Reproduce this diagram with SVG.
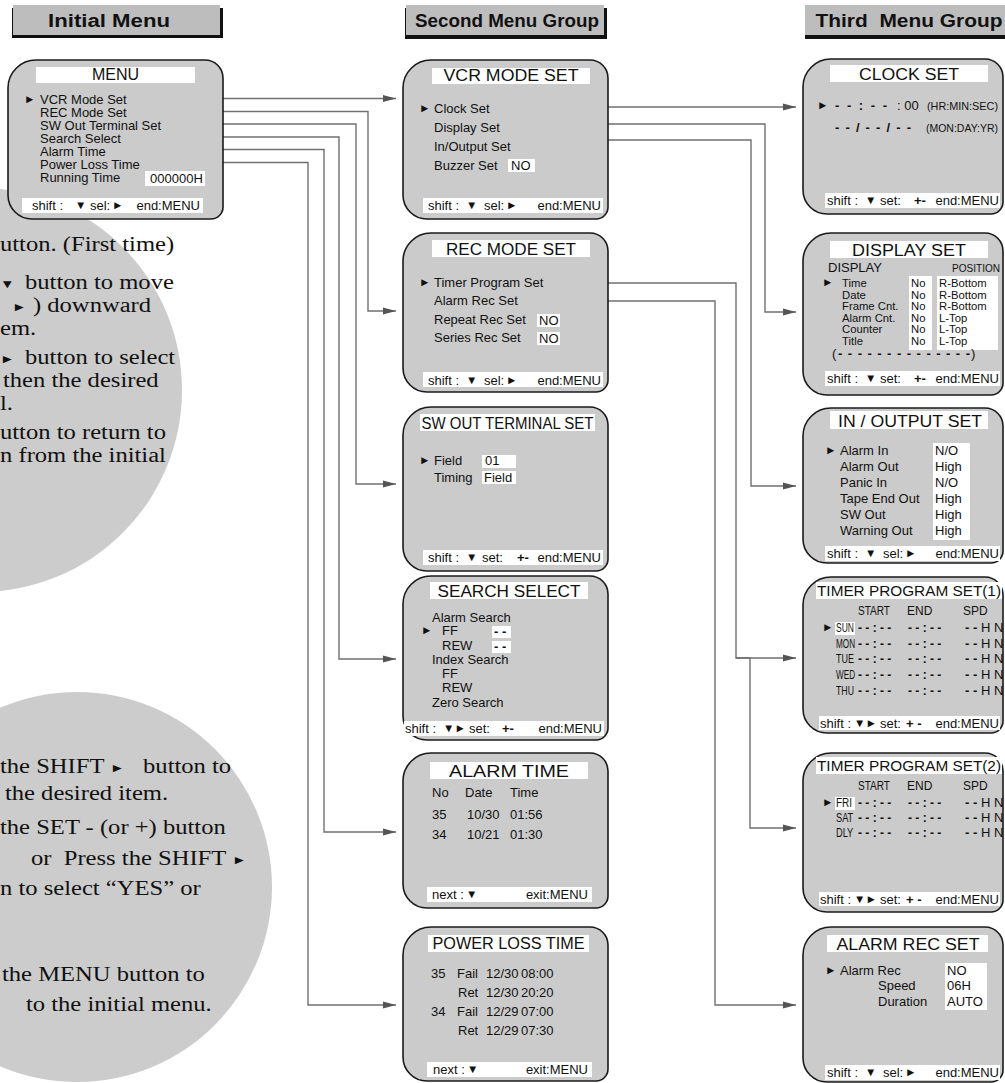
<svg xmlns="http://www.w3.org/2000/svg" width="1005" height="1083" viewBox="0 0 1005 1083">
<style>
.box{fill:#cbcbcb;stroke:#1a1a1a;stroke-width:1.6}
.wb{fill:#fff}
.hdbg{fill:#bdbdbd}
.hdsh{fill:#111}
text{font-family:"Liberation Sans",Arial,Helvetica,sans-serif;fill:#111}
.t{font-size:13px}
.ti{font-size:16px}
.ti2{font-size:15px}
.sm{font-size:12px}
.dr{font-size:11.3px}
.xs{font-size:11px}
.g{font-size:11.5px}
.b{font-weight:bold}
.hd{font-size:18px;font-weight:bold}
.sr{font-family:"Liberation Serif","Times New Roman",serif;font-size:20px}
.sg{font-family:"Liberation Sans",Arial,sans-serif;font-size:12px}
.cn{fill:none;stroke:#707070;stroke-width:1.4}
.circ{fill:#cccccc}
</style>
<defs>
<marker id="ah" markerUnits="userSpaceOnUse" markerWidth="14" markerHeight="8" refX="13" refY="4" orient="auto"><path d="M0,0.5 L13,4 L0,7.5 Z" fill="#555"/></marker>
</defs>

<g id="help-circles">
<circle class="circ" cx="-20" cy="390" r="202"/>
<circle class="circ" cx="77" cy="887" r="195"/>
<g transform="scale(1.23,1)">
<text class="sr" x="0" y="251">utton. (First time)</text>
<text class="sg" x="0" y="288">▼</text><text class="sr" x="20.3" y="289">button to move</text>
<text class="sg" x="9.8" y="311">►</text><text class="sr" x="26.8" y="312">) downward</text>
<text class="sr" x="0" y="335">em.</text>
<text class="sg" x="0" y="363">►</text><text class="sr" x="20.3" y="364">button to select</text>
<text class="sr" x="2.4" y="387">then the desired</text>
<text class="sr" x="0" y="410">l.</text>
<text class="sr" x="0" y="439">utton to return to</text>
<text class="sr" x="0" y="462">n from the initial</text>
<text class="sr" x="0" y="773">the SHIFT</text><text class="sg" x="89.4" y="772">►</text><text class="sr" x="116.3" y="773">button to</text>
<text class="sr" x="4" y="800">the desired item.</text>
<text class="sr" x="0" y="834">the SET - (or +) button</text>
<text class="sr" x="25.2" y="865" xml:space="preserve">or  Press the SHIFT</text><text class="sg" x="188.6" y="864">►</text>
<text class="sr" x="0" y="895">n to select “YES” or</text>
<text class="sr" x="1.6" y="981">the MENU button to</text>
<text class="sr" x="21.1" y="1011">to the initial menu.</text>
</g>
</g>

<g id="header-initial">
<rect class="hdsh" x="12" y="8" width="211" height="30"/>
<rect class="hdbg" x="13" y="5" width="207" height="30"/>
<text class="hd" x="109" y="27" text-anchor="middle" textLength="122" lengthAdjust="spacingAndGlyphs">Initial Menu</text>
</g>
<g id="header-second">
<rect class="hdsh" x="405" y="8" width="202" height="31"/>
<rect class="hdbg" x="406" y="5" width="198" height="30"/>
<text class="hd" x="507" y="27" text-anchor="middle" textLength="184" lengthAdjust="spacingAndGlyphs">Second Menu Group</text>
</g>
<g id="header-third">
<rect class="hdsh" x="805" y="8" width="200" height="31"/>
<rect class="hdbg" x="805" y="5" width="200" height="30"/>
<text class="hd" x="909" y="27" text-anchor="middle" textLength="187" lengthAdjust="spacingAndGlyphs" xml:space="preserve">Third  Menu Group</text>
</g>

<g id="connectors">
<path class="cn" marker-end="url(#ah)" d="M223,98.5 H396"/>
<path class="cn" marker-end="url(#ah)" d="M223,111.5 H368 V311 H396"/>
<path class="cn" marker-end="url(#ah)" d="M223,124 H356 V484 H396"/>
<path class="cn" marker-end="url(#ah)" d="M223,137 H339 V659 H396"/>
<path class="cn" marker-end="url(#ah)" d="M223,149.5 H324 V832 H396"/>
<path class="cn" marker-end="url(#ah)" d="M223,162.5 H308 V1005 H396"/>
<path class="cn" marker-end="url(#ah)" d="M608,107 H796"/>
<path class="cn" marker-end="url(#ah)" d="M608,124 H765 V312 H796"/>
<path class="cn" marker-end="url(#ah)" d="M608,140 H751 V486 H796"/>
<path class="cn" marker-end="url(#ah)" d="M608,283 H736 V658 H796"/>
<path class="cn" marker-end="url(#ah)" d="M736,658 H750 V828 H796"/>
<path class="cn" marker-end="url(#ah)" d="M608,301 H715 V1005 H796"/>
</g>

<g id="menu">
<path class="box" d="M8,88 A28,28 0 0 1 36,60 H205 A18,18 0 0 1 223,78 V207 A12,12 0 0 1 211,219 H32 A24,24 0 0 1 8,195 Z"/>
<rect class="wb" x="36" y="67" width="159" height="16"/>
<text class="ti" x="115.5" y="80" text-anchor="middle">MENU</text>
<text class="g" x="24" y="103">►</text>
<text class="t" x="40" y="104">VCR Mode Set</text>
<text class="t" x="40" y="117">REC Mode Set</text>
<text class="t" x="40" y="130">SW Out Terminal Set</text>
<text class="t" x="40" y="143">Search Select</text>
<text class="t" x="40" y="156">Alarm Time</text>
<text class="t" x="40" y="169">Power Loss Time</text>
<text class="t" x="40" y="182">Running Time</text>
<rect class="wb" x="145" y="171" width="60" height="15"/>
<text class="t" x="150" y="183">000000H</text>
<rect class="wb" x="22" y="198" width="181" height="15"/>
<text class="t" x="32" y="210">shift :</text><text class="g" x="75" y="209">▼</text>
<text class="t" x="90" y="210">sel:</text><text class="g" x="112" y="209">►</text>
<text class="t" x="200" y="210" text-anchor="end">end:MENU</text>
</g>

<g id="vcr-mode-set">
<path class="box" d="M403,88 A28,28 0 0 1 431,60 H590 A18,18 0 0 1 608,78 V207 A12,12 0 0 1 596,219 H427 A24,24 0 0 1 403,195 Z"/>
<rect class="wb" x="432" y="68" width="158" height="16"/>
<text class="ti" x="511" y="81" text-anchor="middle" textLength="135" lengthAdjust="spacingAndGlyphs">VCR MODE SET</text>
<text class="g" x="419" y="112">►</text>
<text class="t" x="434" y="113">Clock Set</text>
<text class="t" x="434" y="132">Display Set</text>
<text class="t" x="434" y="151">In/Output Set</text>
<text class="t" x="434" y="170">Buzzer Set</text>
<rect class="wb" x="508" y="159" width="27" height="13"/>
<text class="t" x="511" y="170">NO</text>
<rect class="wb" x="423" y="198" width="180" height="15"/>
<text class="t" x="428" y="210">shift :</text><text class="g" x="466" y="209">▼</text>
<text class="t" x="484" y="210">sel:</text><text class="g" x="506" y="209">►</text>
<text class="t" x="601" y="210" text-anchor="end">end:MENU</text>
</g>

<g id="rec-mode-set">
<path class="box" d="M403,261 A28,28 0 0 1 431,233 H590 A18,18 0 0 1 608,251 V380 A12,12 0 0 1 596,392 H427 A24,24 0 0 1 403,368 Z"/>
<rect class="wb" x="432" y="240" width="158" height="17"/>
<text class="ti" x="511" y="255" text-anchor="middle" textLength="130" lengthAdjust="spacingAndGlyphs">REC MODE SET</text>
<text class="g" x="419" y="286">►</text>
<text class="t" x="434" y="287">Timer Program Set</text>
<text class="t" x="434" y="305">Alarm Rec Set</text>
<text class="t" x="434" y="324">Repeat Rec Set</text>
<text class="t" x="434" y="342">Series Rec Set</text>
<rect class="wb" x="537" y="314" width="23" height="13"/>
<text class="t" x="539" y="325">NO</text>
<rect class="wb" x="537" y="332" width="23" height="13"/>
<text class="t" x="539" y="343">NO</text>
<rect class="wb" x="423" y="372" width="180" height="15"/>
<text class="t" x="428" y="385">shift :</text><text class="g" x="466" y="384">▼</text>
<text class="t" x="484" y="385">sel:</text><text class="g" x="506" y="384">►</text>
<text class="t" x="601" y="385" text-anchor="end">end:MENU</text>
</g>

<g id="sw-out-terminal-set">
<path class="box" d="M403,435 A28,28 0 0 1 431,407 H590 A18,18 0 0 1 608,425 V559 A12,12 0 0 1 596,571 H427 A24,24 0 0 1 403,547 Z"/>
<rect class="wb" x="420" y="414" width="175" height="17"/>
<text class="ti" x="507.5" y="429" text-anchor="middle" textLength="172" lengthAdjust="spacingAndGlyphs">SW OUT TERMINAL SET</text>
<text class="g" x="419" y="464">►</text>
<text class="t" x="434" y="465">Field</text>
<rect class="wb" x="482" y="455" width="34" height="13"/>
<text class="t" x="485" y="465">01</text>
<text class="t" x="434" y="482">Timing</text>
<rect class="wb" x="482" y="471" width="34" height="13"/>
<text class="t" x="484" y="482">Field</text>
<rect class="wb" x="423" y="550" width="180" height="15"/>
<text class="t" x="428" y="562">shift :</text><text class="g" x="466" y="561">▼</text>
<text class="t" x="482" y="562">set:</text><text class="t b" x="517" y="562">+-</text>
<text class="t" x="601" y="562" text-anchor="end">end:MENU</text>
</g>

<g id="search-select">
<path class="box" d="M403,604 A28,28 0 0 1 431,576 H590 A18,18 0 0 1 608,594 V728 A12,12 0 0 1 596,740 H427 A24,24 0 0 1 403,716 Z"/>
<rect class="wb" x="430" y="582" width="158" height="17"/>
<text class="ti" x="509" y="597" text-anchor="middle" textLength="143" lengthAdjust="spacingAndGlyphs">SEARCH SELECT</text>
<text class="t" x="432" y="622">Alarm Search</text>
<text class="g" x="421" y="634">►</text>
<text class="t" x="442" y="635">FF</text>
<rect class="wb" x="492" y="626" width="19" height="12"/>
<text class="t b" x="494" y="636">- -</text>
<text class="t" x="442" y="650">REW</text>
<rect class="wb" x="492" y="641" width="19" height="12"/>
<text class="t b" x="494" y="651">- -</text>
<text class="t" x="432" y="664">Index Search</text>
<text class="t" x="442" y="678">FF</text>
<text class="t" x="442" y="692">REW</text>
<text class="t" x="432" y="707">Zero Search</text>
<rect class="wb" x="404" y="721" width="200" height="15"/>
<text class="t" x="405" y="733">shift :</text><text class="g" x="443" y="732">▼►</text>
<text class="t" x="469" y="733">set:</text><text class="t b" x="502" y="733">+-</text>
<text class="t" x="602" y="733" text-anchor="end">end:MENU</text>
</g>

<g id="alarm-time">
<path class="box" d="M403,781 A28,28 0 0 1 431,753 H590 A18,18 0 0 1 608,771 V896 A12,12 0 0 1 596,908 H427 A24,24 0 0 1 403,884 Z"/>
<rect class="wb" x="430" y="762" width="158" height="17"/>
<text class="ti" x="509" y="777" text-anchor="middle" textLength="120" lengthAdjust="spacingAndGlyphs">ALARM TIME</text>
<text class="t" x="432" y="797">No</text><text class="t" x="465" y="797">Date</text><text class="t" x="510" y="797">Time</text>
<text class="t" x="432" y="819">35</text><text class="t" x="467" y="819">10/30</text><text class="t" x="510" y="819">01:56</text>
<text class="t" x="432" y="839">34</text><text class="t" x="467" y="839">10/21</text><text class="t" x="510" y="839">01:30</text>
<rect class="wb" x="427" y="887" width="165" height="15"/>
<text class="t" x="432" y="899">next :</text><text class="g" x="466" y="898">▼</text>
<text class="t" x="588" y="899" text-anchor="end">exit:MENU</text>
</g>

<g id="power-loss-time">
<path class="box" d="M403,955 A28,28 0 0 1 431,927 H590 A18,18 0 0 1 608,945 V1069 A12,12 0 0 1 596,1081 H427 A24,24 0 0 1 403,1057 Z"/>
<rect class="wb" x="428" y="935" width="161" height="17"/>
<text class="ti" x="508.5" y="949" text-anchor="middle" textLength="152" lengthAdjust="spacingAndGlyphs">POWER LOSS TIME</text>
<text class="t" x="431" y="978">35</text><text class="t" x="457" y="978">Fail</text><text class="t" x="486" y="978">12/30</text><text class="t" x="521" y="978">08:00</text>
<text class="t" x="458" y="997">Ret</text><text class="t" x="486" y="997">12/30</text><text class="t" x="521" y="997">20:20</text>
<text class="t" x="431" y="1016">34</text><text class="t" x="457" y="1016">Fail</text><text class="t" x="486" y="1016">12/29</text><text class="t" x="521" y="1016">07:00</text>
<text class="t" x="458" y="1035">Ret</text><text class="t" x="486" y="1035">12/29</text><text class="t" x="521" y="1035">07:30</text>
<rect class="wb" x="427" y="1062" width="165" height="15"/>
<text class="t" x="433" y="1074">next :</text><text class="g" x="467" y="1073">▼</text>
<text class="t" x="588" y="1074" text-anchor="end">exit:MENU</text>
</g>

<g id="clock-set">
<path class="box" d="M803,87 A28,28 0 0 1 831,59 H985 A18,18 0 0 1 1003,77 V202 A12,12 0 0 1 991,214 H827 A24,24 0 0 1 803,190 Z"/>
<rect class="wb" x="830" y="65" width="158" height="17"/>
<text class="ti" x="909" y="80" text-anchor="middle" textLength="100" lengthAdjust="spacingAndGlyphs">CLOCK SET</text>
<text class="g" x="817" y="109">►</text>
<text class="t b" x="835" y="110" textLength="52" lengthAdjust="spacing">- - : - -</text><text class="t" x="897" y="110">: 00</text>
<text class="xs" x="927" y="110" textLength="71" lengthAdjust="spacingAndGlyphs">(HR:MIN:SEC)</text>
<text class="t b" x="835" y="132" textLength="76" lengthAdjust="spacing">- - / - - / - -</text>
<text class="xs" x="926" y="132" textLength="72" lengthAdjust="spacingAndGlyphs">(MON:DAY:YR)</text>
<rect class="wb" x="825" y="193" width="175" height="15"/>
<text class="t" x="827" y="205">shift :</text><text class="g" x="865" y="204">▼</text>
<text class="t" x="880" y="205">set:</text><text class="t b" x="914" y="205">+-</text>
<text class="t" x="999" y="205" text-anchor="end">end:MENU</text>
</g>

<g id="display-set">
<path class="box" d="M803,261 A28,28 0 0 1 831,233 H985 A18,18 0 0 1 1003,251 V383 A12,12 0 0 1 991,395 H827 A24,24 0 0 1 803,371 Z"/>
<rect class="wb" x="830" y="241" width="158" height="17"/>
<text class="ti" x="909" y="256" text-anchor="middle" textLength="114" lengthAdjust="spacingAndGlyphs">DISPLAY SET</text>
<text class="t" x="828" y="272">DISPLAY</text>
<text class="xs" x="952" y="272" textLength="48" lengthAdjust="spacingAndGlyphs">POSITION</text>
<rect class="wb" x="909" y="276" width="23" height="74"/>
<rect class="wb" x="937" y="276" width="61" height="74"/>
<text class="g" x="822" y="286">►</text>
<text class="dr" x="842" y="287">Time</text><text class="dr" x="911" y="287">No</text><text class="dr" x="939" y="287">R-Bottom</text>
<text class="dr" x="842" y="298.5">Date</text><text class="dr" x="911" y="298.5">No</text><text class="dr" x="939" y="298.5">R-Bottom</text>
<text class="dr" x="842" y="310">Frame Cnt.</text><text class="dr" x="911" y="310">No</text><text class="dr" x="939" y="310">R-Bottom</text>
<text class="dr" x="842" y="321.5">Alarm Cnt.</text><text class="dr" x="911" y="321.5">No</text><text class="dr" x="939" y="321.5">L-Top</text>
<text class="dr" x="842" y="333">Counter</text><text class="dr" x="911" y="333">No</text><text class="dr" x="939" y="333">L-Top</text>
<text class="dr" x="842" y="344.5">Title</text><text class="dr" x="911" y="344.5">No</text><text class="dr" x="939" y="344.5">L-Top</text>
<text class="t" x="832" y="358">(</text><text class="t b" x="838" y="358" textLength="132" lengthAdjust="spacing">- - - - - - - - - - - - - -</text><text class="t" x="971" y="358">)</text>
<rect class="wb" x="825" y="371" width="175" height="15"/>
<text class="t" x="827" y="383">shift :</text><text class="g" x="865" y="382">▼</text>
<text class="t" x="880" y="383">set:</text><text class="t b" x="914" y="383">+-</text>
<text class="t" x="999" y="383" text-anchor="end">end:MENU</text>
</g>

<g id="in-output-set">
<path class="box" d="M803,436 A28,28 0 0 1 831,408 H985 A18,18 0 0 1 1003,426 V551 A12,12 0 0 1 991,563 H827 A24,24 0 0 1 803,539 Z"/>
<rect class="wb" x="830" y="411" width="158" height="18"/>
<text class="ti" x="910" y="427" text-anchor="middle" textLength="144" lengthAdjust="spacingAndGlyphs">IN / OUTPUT SET</text>
<rect class="wb" x="933" y="443" width="37" height="97"/>
<text class="g" x="825" y="454">►</text>
<text class="t" x="840" y="455">Alarm In</text><text class="t" x="935" y="455">N/O</text>
<text class="t" x="840" y="471">Alarm Out</text><text class="t" x="935" y="471">High</text>
<text class="t" x="840" y="487">Panic In</text><text class="t" x="935" y="487">N/O</text>
<text class="t" x="840" y="503">Tape End Out</text><text class="t" x="935" y="503">High</text>
<text class="t" x="840" y="519">SW Out</text><text class="t" x="935" y="519">High</text>
<text class="t" x="840" y="535">Warning Out</text><text class="t" x="935" y="535">High</text>
<rect class="wb" x="825" y="546" width="175" height="15"/>
<text class="t" x="827" y="558">shift :</text><text class="g" x="865" y="557">▼</text>
<text class="t" x="883" y="558">sel:</text><text class="g" x="905" y="557">►</text>
<text class="t" x="999" y="558" text-anchor="end">end:MENU</text>
</g>

<g id="timer-program-set-1">
<path class="box" d="M803,605 A28,28 0 0 1 831,577 H985 A18,18 0 0 1 1003,595 V721 A12,12 0 0 1 991,733 H827 A24,24 0 0 1 803,709 Z"/>
<rect class="wb" x="816" y="582" width="186" height="17"/>
<text class="ti2" x="909" y="596" text-anchor="middle" textLength="184" lengthAdjust="spacingAndGlyphs">TIMER PROGRAM SET(1)</text>
<text class="sm" x="858" y="615" textLength="32" lengthAdjust="spacingAndGlyphs">START</text>
<text class="sm" x="907" y="615">END</text>
<text class="sm" x="963" y="615">SPD</text>
<rect class="wb" x="835" y="622" width="20" height="13"/>
<text class="g" x="822" y="631">►</text>
<text class="sm" transform="translate(836,632) scale(0.71,1)">SUN</text><text class="sm b" x="858" y="632">- - : - -</text><text class="sm b" x="908" y="632">- - : - -</text><text class="t" x="965" y="632"><tspan class="b">- -</tspan> H</text><text class="t" x="994" y="632">N</text>
<text class="sm" transform="translate(836,648) scale(0.68,1)">MON</text><text class="sm b" x="858" y="648">- - : - -</text><text class="sm b" x="908" y="648">- - : - -</text><text class="t" x="965" y="648"><tspan class="b">- -</tspan> H</text><text class="t" x="994" y="648">N</text>
<text class="sm" transform="translate(836,663) scale(0.75,1)">TUE</text><text class="sm b" x="858" y="663">- - : - -</text><text class="sm b" x="908" y="663">- - : - -</text><text class="t" x="965" y="663"><tspan class="b">- -</tspan> H</text><text class="t" x="994" y="663">N</text>
<text class="sm" transform="translate(836,679) scale(0.68,1)">WED</text><text class="sm b" x="858" y="679">- - : - -</text><text class="sm b" x="908" y="679">- - : - -</text><text class="t" x="965" y="679"><tspan class="b">- -</tspan> H</text><text class="t" x="994" y="679">N</text>
<text class="sm" transform="translate(836,695) scale(0.73,1)">THU</text><text class="sm b" x="858" y="695">- - : - -</text><text class="sm b" x="908" y="695">- - : - -</text><text class="t" x="965" y="695"><tspan class="b">- -</tspan> H</text><text class="t" x="994" y="695">N</text>
<rect class="wb" x="819" y="716" width="181" height="14"/>
<text class="t" x="820" y="728">shift :</text><text class="g" x="854" y="727">▼►</text>
<text class="t" x="880" y="728">set:</text><text class="t b" x="906" y="728">+ -</text>
<text class="t" x="999" y="728" text-anchor="end">end:MENU</text>
</g>

<g id="timer-program-set-2">
<path class="box" d="M803,781 A28,28 0 0 1 831,753 H985 A18,18 0 0 1 1003,771 V900 A12,12 0 0 1 991,912 H827 A24,24 0 0 1 803,888 Z"/>
<rect class="wb" x="816" y="757" width="186" height="17"/>
<text class="ti2" x="909" y="771" text-anchor="middle" textLength="184" lengthAdjust="spacingAndGlyphs">TIMER PROGRAM SET(2)</text>
<text class="sm" x="858" y="790" textLength="32" lengthAdjust="spacingAndGlyphs">START</text>
<text class="sm" x="907" y="790">END</text>
<text class="sm" x="963" y="790">SPD</text>
<rect class="wb" x="835" y="797" width="20" height="13"/>
<text class="g" x="822" y="806">►</text>
<text class="sm" transform="translate(836,807) scale(0.83,1)">FRI</text><text class="sm b" x="858" y="807">- - : - -</text><text class="sm b" x="908" y="807">- - : - -</text><text class="t" x="965" y="807"><tspan class="b">- -</tspan> H</text><text class="t" x="994" y="807">N</text>
<text class="sm" transform="translate(836,822) scale(0.77,1)">SAT</text><text class="sm b" x="858" y="822">- - : - -</text><text class="sm b" x="908" y="822">- - : - -</text><text class="t" x="965" y="822"><tspan class="b">- -</tspan> H</text><text class="t" x="994" y="822">N</text>
<text class="sm" transform="translate(836,837) scale(0.77,1)">DLY</text><text class="sm b" x="858" y="837">- - : - -</text><text class="sm b" x="908" y="837">- - : - -</text><text class="t" x="965" y="837"><tspan class="b">- -</tspan> H</text><text class="t" x="994" y="837">N</text>
<rect class="wb" x="819" y="892" width="181" height="14"/>
<text class="t" x="820" y="904">shift :</text><text class="g" x="854" y="903">▼►</text>
<text class="t" x="880" y="904">set:</text><text class="t b" x="906" y="904">+ -</text>
<text class="t" x="999" y="904" text-anchor="end">end:MENU</text>
</g>

<g id="alarm-rec-set">
<path class="box" d="M803,955 A28,28 0 0 1 831,927 H985 A18,18 0 0 1 1003,945 V1070 A12,12 0 0 1 991,1082 H827 A24,24 0 0 1 803,1058 Z"/>
<rect class="wb" x="827" y="935" width="161" height="17"/>
<text class="ti" x="908" y="950" text-anchor="middle" textLength="143" lengthAdjust="spacingAndGlyphs">ALARM REC SET</text>
<rect class="wb" x="945" y="963" width="42" height="47"/>
<text class="g" x="825" y="974">►</text>
<text class="t" x="840" y="975">Alarm Rec</text><text class="t" x="947" y="975">NO</text>
<text class="t" x="878" y="990">Speed</text><text class="t" x="947" y="990">06H</text>
<text class="t" x="878" y="1006">Duration</text><text class="t" x="947" y="1006">AUTO</text>
<rect class="wb" x="825" y="1065" width="175" height="15"/>
<text class="t" x="827" y="1077">shift :</text><text class="g" x="865" y="1076">▼</text>
<text class="t" x="883" y="1077">sel:</text><text class="g" x="905" y="1076">►</text>
<text class="t" x="999" y="1077" text-anchor="end">end:MENU</text>
</g>
</svg>
